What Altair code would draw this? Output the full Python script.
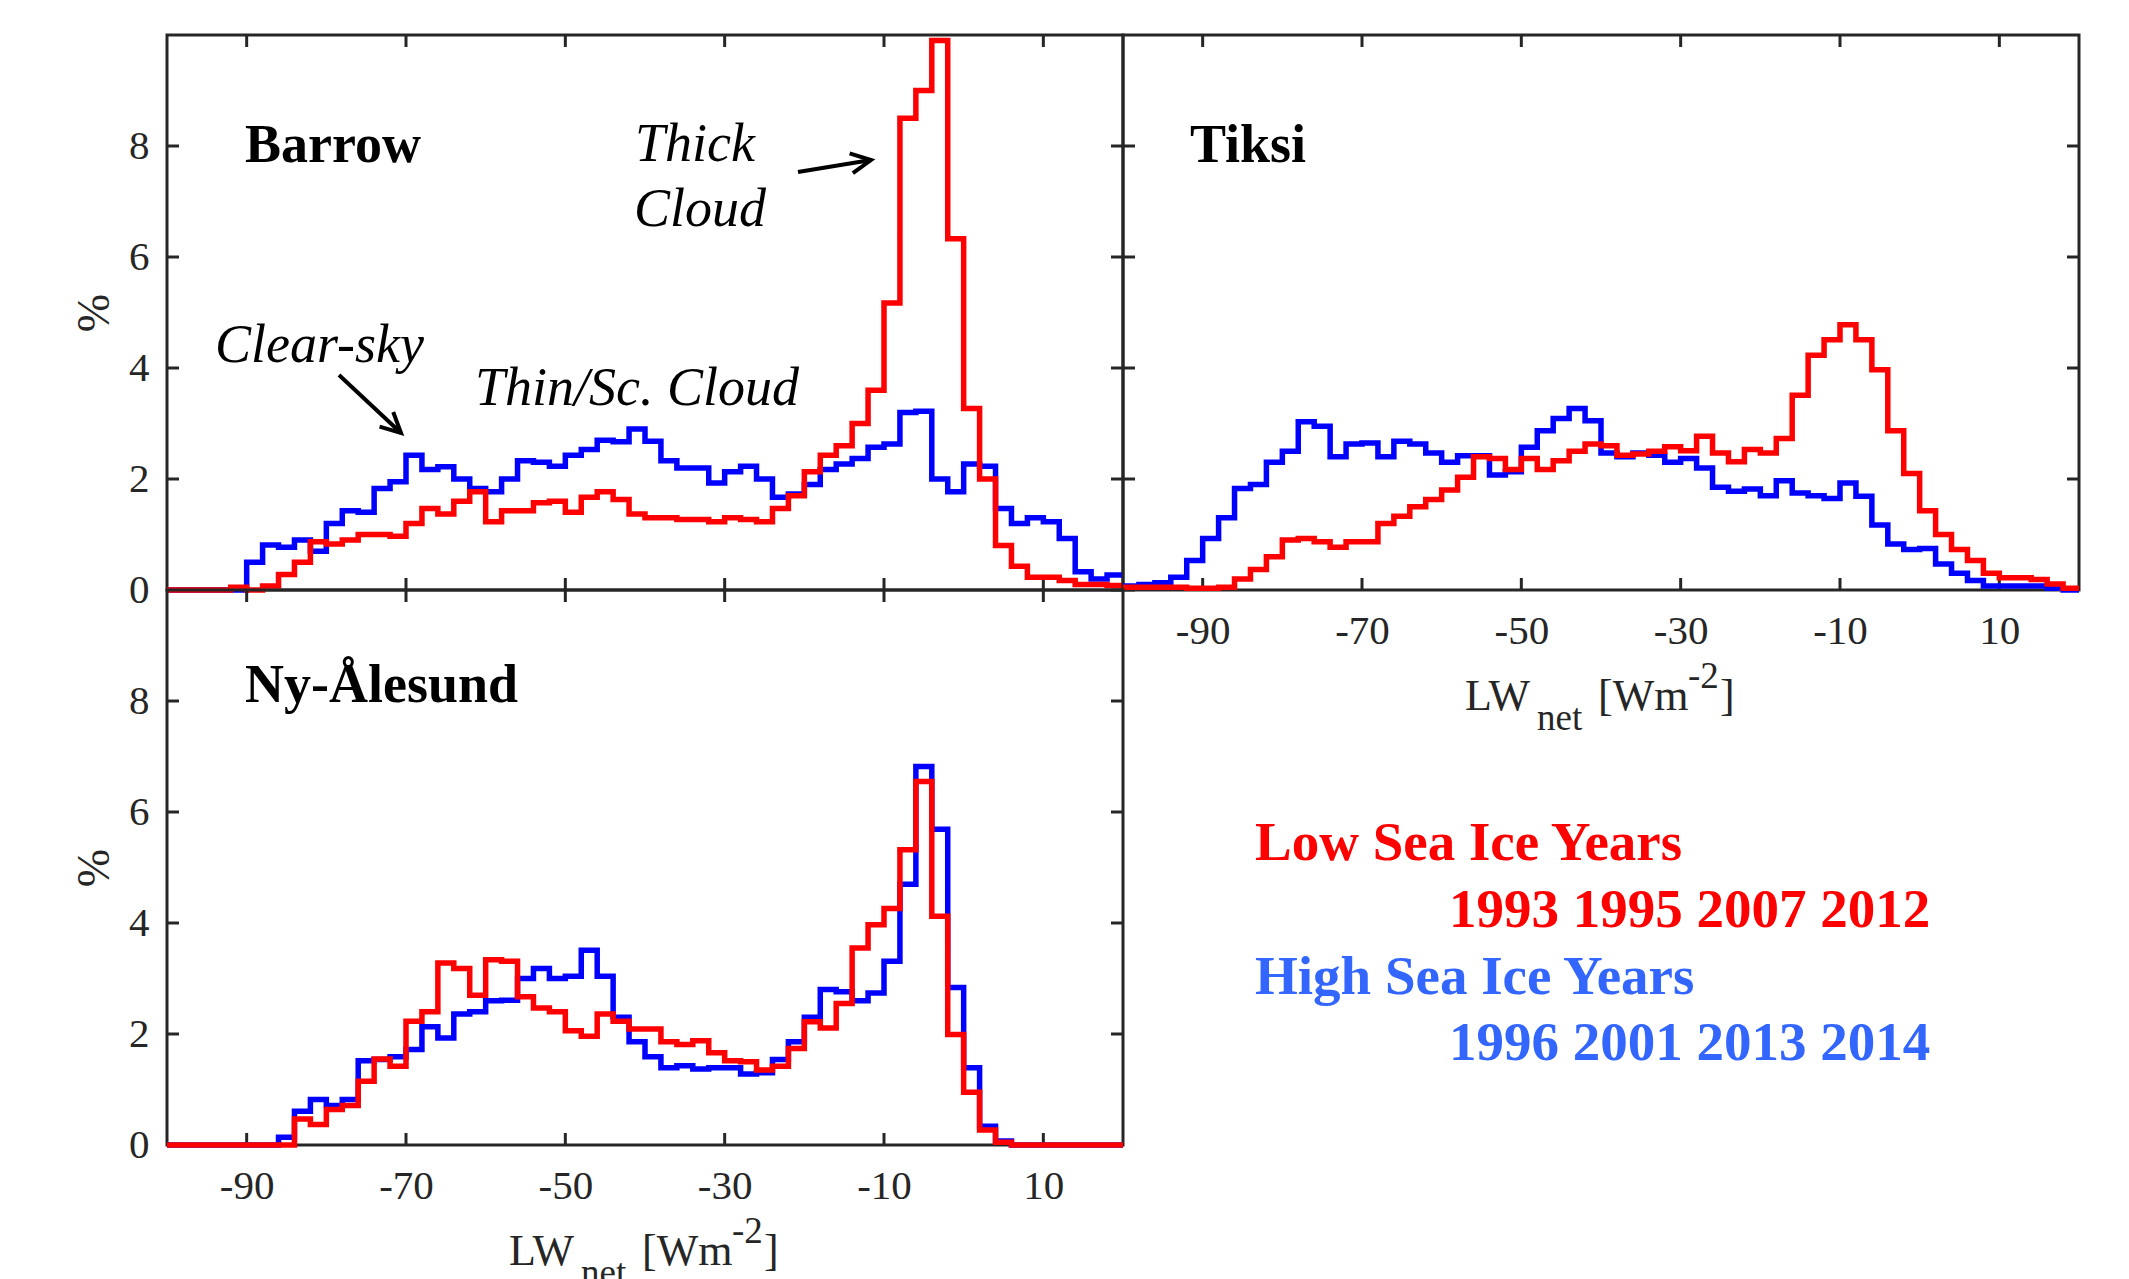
import math
import altair as alt
import pandas as pd

FONT = "Liberation Serif"
AX = "#262626"
RED = "#FF0000"
BLUE = "#0000FF"
LEG_BLUE = "#3366FF"
W, H = 956, 555

# ---------------- data ----------------
BIN_LEFT = list(range(-100, 20, 2))          # 60 bins of 2 W m-2
X_DOMAIN = [-100, 20]
Y_DOMAIN = [0, 10]
X_TICKS = [-90, -70, -50, -30, -10, 10]
Y_TICKS = [0, 2, 4, 6, 8]

barrow_high = [0, 0, 0, 0, 0,
               0.50, 0.81, 0.77, 0.90, 0.70,
               1.20, 1.43, 1.40, 1.83, 1.95,
               2.43, 2.17, 2.22, 2.00, 1.83,
               1.77, 2.00, 2.33, 2.30, 2.23,
               2.43, 2.53, 2.70, 2.67, 2.90,
               2.68, 2.33, 2.20, 2.20, 1.93,
               2.13, 2.23, 2.00, 1.67, 1.73,
               1.90, 2.17, 2.27, 2.37, 2.57,
               2.63, 3.20, 3.22, 2.00, 1.77,
               2.27, 2.23, 1.47, 1.20, 1.30,
               1.23, 0.93, 0.33, 0.20, 0.27]
barrow_low = [0, 0, 0, 0, 0.05,
              0.0, 0.07, 0.28, 0.50, 0.87,
              0.83, 0.90, 1.00, 1.00, 0.97,
              1.20, 1.47, 1.37, 1.60, 1.77,
              1.23, 1.43, 1.43, 1.57, 1.60,
              1.40, 1.67, 1.77, 1.63, 1.37,
              1.30, 1.30, 1.27, 1.27, 1.23,
              1.30, 1.27, 1.23, 1.47, 1.70,
              2.13, 2.43, 2.60, 3.00, 3.60,
              5.17, 8.50, 9.00, 9.90, 6.33,
              3.27, 2.00, 0.80, 0.43, 0.23,
              0.23, 0.17, 0.10, 0.10, 0.08]
tiksi_high = [0.07, 0.10, 0.13, 0.23, 0.53,
              0.93, 1.30, 1.83, 1.90, 2.30,
              2.50, 3.03, 2.95, 2.40, 2.63,
              2.65, 2.40, 2.68, 2.63, 2.47,
              2.30, 2.42, 2.42, 2.07, 2.13,
              2.57, 2.87, 3.09, 3.27, 3.05,
              2.47, 2.40, 2.47, 2.43, 2.30,
              2.37, 2.20, 1.85, 1.78, 1.82,
              1.70, 1.97, 1.75, 1.70, 1.65,
              1.93, 1.69, 1.17, 0.83, 0.73,
              0.75, 0.47, 0.30, 0.17, 0.07,
              0.07, 0.07, 0.07, 0.03, 0.00]
tiksi_low = [0.05, 0.05, 0.05, 0.05, 0.03,
             0.03, 0.05, 0.20, 0.37, 0.60,
             0.90, 0.93, 0.87, 0.77, 0.87,
             0.87, 1.20, 1.33, 1.50, 1.63,
             1.80, 2.03, 2.40, 2.37, 2.17,
             2.37, 2.17, 2.33, 2.50, 2.63,
             2.60, 2.43, 2.45, 2.50, 2.58,
             2.51, 2.77, 2.47, 2.31, 2.53,
             2.47, 2.73, 3.51, 4.23, 4.51,
             4.78, 4.51, 3.97, 2.87, 2.10,
             1.43, 1.00, 0.73, 0.53, 0.30,
             0.22, 0.22, 0.19, 0.11, 0.03]
ny_high = [0, 0, 0, 0, 0,
           0, 0, 0.14, 0.61, 0.82,
           0.71, 0.82, 1.52, 1.54, 1.59,
           1.72, 2.13, 1.93, 2.36, 2.40,
           2.60, 2.61, 3.00, 3.18, 3.00,
           3.04, 3.51, 3.04, 2.30, 1.86,
           1.59, 1.39, 1.43, 1.37, 1.39,
           1.39, 1.28, 1.30, 1.54, 1.86,
           2.30, 2.80, 2.76, 2.60, 2.74,
           3.31, 4.70, 6.82, 5.69, 2.84,
           1.39, 0.34, 0.07, 0, 0,
           0, 0, 0, 0, 0]
ny_low = [0, 0, 0, 0, 0,
          0, 0, 0, 0.47, 0.37,
          0.64, 0.71, 1.15, 1.55, 1.42,
          2.23, 2.40, 3.28, 3.18, 2.70,
          3.34, 3.31, 2.67, 2.47, 2.40,
          2.06, 1.96, 2.36, 2.23, 2.09,
          2.09, 1.86, 1.81, 1.88, 1.66,
          1.52, 1.50, 1.35, 1.42, 1.74,
          2.22, 2.11, 2.55, 3.55, 3.97,
          4.26, 5.32, 6.55, 4.12, 1.99,
          0.95, 0.27, 0.05, 0, 0,
          0, 0, 0, 0, 0]

for arr in (barrow_high, barrow_low, tiksi_high, tiksi_low, ny_high, ny_low):
    assert len(arr) == len(BIN_LEFT)

LEGEND_LOW = "Low Sea Ice Years"
LEGEND_LOW_YEARS = "1993 1995 2007 2012"
LEGEND_HIGH = "High Sea Ice Years"
LEGEND_HIGH_YEARS = "1996 2001 2013 2014"

# ---------------- helpers ----------------
DUMMY = pd.DataFrame({"_": [0]})
xs = alt.Scale(domain=X_DOMAIN, nice=False, zero=False)
ys = alt.Scale(domain=Y_DOMAIN, nice=False, zero=False)
LINE_W = 5.5


def step_df(vals):
    return pd.DataFrame({"lw": BIN_LEFT + [X_DOMAIN[1]],
                         "pct": list(vals) + [vals[-1]]})


def x_axis(show):
    if not show:
        return None
    return alt.Axis(values=X_TICKS, ticks=False, tickSize=0, domain=False,
                    grid=False, title=None, labelExpr="'' + datum.value",
                    labelFont=FONT, labelFontSize=41, labelColor=AX,
                    labelPadding=21, labelFlush=False, labelOverlap=False)


def y_axis(show):
    if not show:
        return None
    return alt.Axis(values=Y_TICKS, ticks=False, tickSize=0, domain=False,
                    grid=False, title="%", titleFont=FONT, titleFontSize=46,
                    titleFontWeight="normal", titleColor=AX, titleAngle=270,
                    titleX=-73, titleY=H / 2, titleAlign="center",
                    titleBaseline="middle", labelFont=FONT, labelFontSize=41,
                    labelColor=AX, labelPadding=18, labelFlush=False,
                    labelOverlap=False)


def label(s, x, y, size, weight="normal", style="normal", color="black"):
    return alt.Chart(DUMMY).mark_text(
        text=s, font=FONT, fontSize=size, fontWeight=weight, fontStyle=style,
        color=color, align="left", baseline="alphabetic"
    ).encode(x=alt.value(x), y=alt.value(y))


def arrow(x1, y1, x2, y2):
    ang = math.degrees(math.atan2(y2 - y1, x2 - x1)) % 360
    shaft = alt.Chart(DUMMY).mark_rule(color="black", strokeWidth=4).encode(
        x=alt.value(x1), y=alt.value(y1), x2=alt.value(x2), y2=alt.value(y2))
    head = alt.Chart(DUMMY).mark_point(
        shape="M-2,-1L0,0L-2,1", filled=False, color="black", strokeWidth=4,
        size=400, angle=ang, opacity=1
    ).encode(x=alt.value(x2), y=alt.value(y2))
    return [shaft, head]


def x_title(ox, oy):
    parts = [("LW", 0, 0, 44), ("net", 72, 20, 37), ("[Wm", 133, 0, 44),
             ("-2", 223, -22, 37), ("]", 255, 0, 44)]
    return [label(t, ox + dx, oy + dy, sz, color=AX) for t, dx, dy, sz in parts]


def panel(high, low, name, nx, ny, show_x, show_y, extra):
    xa, ya = x_axis(show_x), y_axis(show_y)

    def X():
        return alt.X("lw:Q", scale=xs, axis=xa)

    def Y():
        return alt.Y("pct:Q", scale=ys, axis=ya)

    tx = pd.DataFrame({"lw": X_TICKS})
    ty = pd.DataFrame({"pct": Y_TICKS})
    layers = [
        alt.Chart(tx).mark_rule(color=AX, strokeWidth=3).encode(
            x=X(), y=alt.value(H), y2=alt.value(H - 12)),
        alt.Chart(tx).mark_rule(color=AX, strokeWidth=3).encode(
            x=X(), y=alt.value(0), y2=alt.value(12)),
        alt.Chart(ty).mark_rule(color=AX, strokeWidth=3).encode(
            y=Y(), x=alt.value(0), x2=alt.value(12)),
        alt.Chart(ty).mark_rule(color=AX, strokeWidth=3).encode(
            y=Y(), x=alt.value(W), x2=alt.value(W - 12)),
        alt.Chart(step_df(high)).mark_line(
            interpolate="step-after", color=BLUE, strokeWidth=LINE_W).encode(x=X(), y=Y()),
        alt.Chart(step_df(low)).mark_line(
            interpolate="step-after", color=RED, strokeWidth=LINE_W).encode(x=X(), y=Y()),
        label(name, nx, ny, 54, weight="bold"),
    ]
    layers += extra
    return alt.layer(*layers).properties(width=W, height=H)


# pin the top-left corner of the page so the first panel starts at (165, 33)
pin = alt.Chart(DUMMY).mark_rule(color="white", strokeWidth=0.01).encode(
    x=alt.value(-165), y=alt.value(-33), x2=alt.value(-164), y2=alt.value(-33))

barrow_extra = [pin,
                label("Thick", 468, 126, 54, style="italic"),
                label("Cloud", 467, 191, 54, style="italic"),
                label("Clear-sky", 48, 327, 54, style="italic"),
                label("Thin/Sc. Cloud", 308, 370, 54, style="italic")]
barrow_extra += arrow(172, 340, 234, 398)
barrow_extra += arrow(631, 137, 704, 125)

barrow = panel(barrow_high, barrow_low, "Barrow", 78, 127, False, True, barrow_extra)
tiksi = panel(tiksi_high, tiksi_low, "Tiksi", 67, 127, True, False, x_title(342, 675))

ny_extra = x_title(342, 675) + [
    label(LEGEND_LOW, 1088, 270, 55, weight="bold", color=RED),
    label(LEGEND_LOW_YEARS, 1282, 337, 55, weight="bold", color=RED),
    label(LEGEND_HIGH, 1088, 404, 55, weight="bold", color=LEG_BLUE),
    label(LEGEND_HIGH_YEARS, 1282, 470, 55, weight="bold", color=LEG_BLUE),
]
ny = panel(ny_high, ny_low, "Ny-Ålesund", 78, 112, True, True, ny_extra)

chart = alt.concat(barrow, tiksi, ny, columns=2, spacing=0, bounds="flush").properties(
    padding=0, background="white"
).configure_view(stroke=AX, strokeWidth=3)

chart.save("out.html", embed_options={"renderer": "svg", "actions": False})
